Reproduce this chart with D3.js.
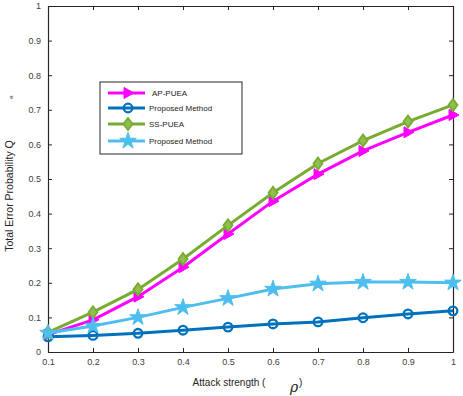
<!DOCTYPE html>
<html><head><meta charset="utf-8">
<script src="https://cdn.jsdelivr.net/npm/d3@7/dist/d3.min.js"></script>
<style>body{margin:0;background:#fff}svg{display:block}</style>
</head><body>
<script>
const xValues = [0.1,0.2,0.3,0.4,0.5,0.6,0.7,0.8,0.9,1.0];
const apPuea = [0.050,0.093,0.160,0.245,0.341,0.436,0.514,0.581,0.635,0.685];
const proposed1 = [0.044,0.048,0.054,0.063,0.072,0.081,0.087,0.099,0.110,0.119];
const ssPuea = [0.057,0.115,0.181,0.269,0.366,0.460,0.545,0.611,0.666,0.714];
const proposed2 = [0.055,0.075,0.100,0.129,0.155,0.182,0.197,0.202,0.202,0.200];
const xTicks = [0.1,0.2,0.3,0.4,0.5,0.6,0.7,0.8,0.9,1];
const yTicks = [0,0.1,0.2,0.3,0.4,0.5,0.6,0.7,0.8,0.9,1];
const seriesNames = ["AP-PUEA","Proposed Method","SS-PUEA","Proposed Method"];

const W=463,H=396;
const svg=d3.select("body").append("svg").attr("width",W).attr("height",H);
const L=48,R=453,T=6,B=352;
const x=d3.scaleLinear().domain([0.1,1]).range([L,R]);
const y=d3.scaleLinear().domain([0,1]).range([B,T]);
const axCol="#262626", font="'Liberation Sans', Arial, sans-serif";

const gx=svg.append("g").attr("transform",`translate(0,${B})`)
  .call(d3.axisBottom(x).tickValues(xTicks).tickSizeInner(-4).tickSizeOuter(0).tickPadding(7).tickFormat(d=>d===1?"1":d3.format(".1f")(d)));
const gy=svg.append("g").attr("transform",`translate(${L},0)`)
  .call(d3.axisLeft(y).tickValues(yTicks).tickSizeInner(-4).tickSizeOuter(0).tickPadding(7).tickFormat(d=>d===0?"0":d===1?"1":d3.format(".1f")(d)));
const gt=svg.append("g").attr("transform",`translate(0,${T})`)
  .call(d3.axisTop(x).tickValues(xTicks).tickSizeInner(-4).tickSizeOuter(0).tickFormat(""));
const gr=svg.append("g").attr("transform",`translate(${R},0)`)
  .call(d3.axisRight(y).tickValues(yTicks).tickSizeInner(-4).tickSizeOuter(0).tickFormat(""));
[gx,gy,gt,gr].forEach(g=>{
  g.selectAll("path").attr("stroke",axCol).attr("stroke-width",1.2);
  g.selectAll("line").attr("stroke",axCol);
  g.selectAll("text").attr("fill","#404040").attr("font-family",font).attr("font-size",9);
});

const colors=["#ff00ff","#0072bd","#77ac30","#4dbeee"];
const data=[apPuea,proposed1,ssPuea,proposed2];
const markerType=["tri","circle","diamond","star"];

function drawMarker(g,type,cx,cy,c){
  if(type==="tri"){
    g.append("path").attr("d",`M${cx-4},${cy-5.5}L${cx+6},${cy}L${cx-4},${cy+5.5}Z`).attr("fill",c).attr("stroke",c).attr("stroke-width",1);
  } else if(type==="circle"){
    g.append("circle").attr("cx",cx).attr("cy",cy).attr("r",4.3).attr("fill","none").attr("stroke",c).attr("stroke-width",2.3);
  } else if(type==="diamond"){
    g.append("path").attr("d",`M${cx},${cy-6}L${cx+4.5},${cy}L${cx},${cy+6}L${cx-4.5},${cy}Z`).attr("fill","#8fbf50").attr("stroke",c).attr("stroke-width",1.8);
  } else {
    g.append("path").attr("d",d3.symbol(d3.symbolStar,85)()).attr("transform",`translate(${cx},${cy})`).attr("fill",c).attr("stroke",c).attr("stroke-width",1);
  }
}

const line=d3.line().x((d,i)=>x(xValues[i])).y(d=>y(d));
data.forEach((s,k)=>{
  const g=svg.append("g");
  g.append("path").datum(s).attr("d",line).attr("fill","none").attr("stroke",colors[k]).attr("stroke-width",3);
  s.forEach((v,i)=>drawMarker(g,markerType[k],x(xValues[i]),y(v),colors[k]));
});

const lg=svg.append("g");
lg.append("rect").attr("x",100).attr("y",82).attr("width",142).attr("height",72).attr("fill","#fff").attr("stroke",axCol).attr("stroke-width",1);
const ly=[93,108,124,141];
seriesNames.forEach((n,k)=>{
  lg.append("line").attr("x1",108).attr("x2",145).attr("y1",ly[k]).attr("y2",ly[k]).attr("stroke",colors[k]).attr("stroke-width",3);
  drawMarker(lg,markerType[k],128,ly[k],colors[k]);
  lg.append("text").attr("x",k===0?152:149).attr("y",ly[k]+3).text(n).attr("font-family",font).attr("font-size",8).attr("fill","#1a1a1a");
});

svg.append("text").attr("transform","translate(13,196) rotate(-90)").attr("text-anchor","middle")
  .attr("font-family",font).attr("font-size",10.5).attr("fill","#262626").text("Total Error Probability Q");
svg.append("text").attr("transform","translate(13,97) rotate(-90)").attr("text-anchor","middle")
  .attr("font-family",font).attr("font-size",6).attr("fill","#262626").text("e");
svg.append("text").attr("x",229).attr("y",386).attr("text-anchor","middle")
  .attr("font-family",font).attr("font-size",10).attr("fill","#262626").text("Attack strength (");
svg.append("text").attr("x",290).attr("y",392)
  .attr("font-family","'DejaVu Serif', serif").attr("font-style","italic").attr("font-size",14).attr("fill","#262626").text("ρ");
svg.append("text").attr("x",299).attr("y",386)
  .attr("font-family",font).attr("font-size",10).attr("fill","#262626").text(")");
</script>
</body></html>
